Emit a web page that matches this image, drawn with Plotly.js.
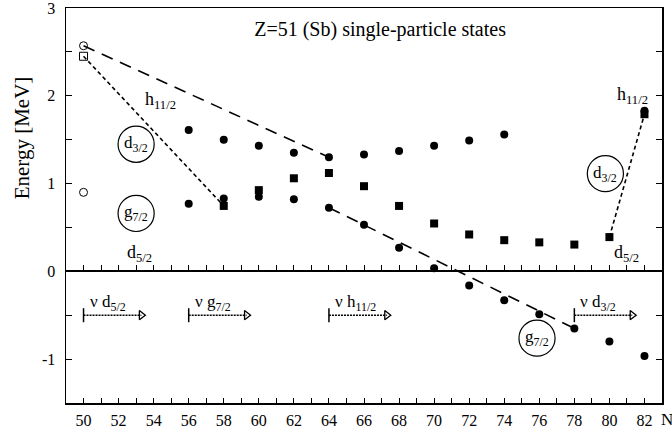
<!DOCTYPE html>
<html><head><meta charset="utf-8">
<script src="https://cdn.plot.ly/plotly-3.0.1.min.js"></script>
<style>html,body{margin:0;padding:0;background:#fff}</style>
</head><body><div id="chart" style="width:672px;height:431px"></div>
<script>
// ---- data ----
const N_h11 = [56,58,60,62,64,66,68,70,72,74,82];
const E_h11 = [1.61,1.50,1.43,1.35,1.30,1.33,1.37,1.43,1.49,1.56,1.83];
const N_g7 = [56,58,60,62,64,66,68,70,72,74,76,78,80,82];
const E_g7 = [0.77,0.83,0.85,0.82,0.725,0.53,0.27,0.035,-0.16,-0.33,-0.49,-0.65,-0.80,-0.965];
const N_d32 = [58,60,62,64,66,68,70,72,74,76,78,80,82];
const E_d32 = [0.745,0.925,1.06,1.12,0.97,0.745,0.545,0.42,0.355,0.33,0.305,0.39,1.79];
const N_open_circ = [50,50];
const E_open_circ = [2.57,0.90];
const N_open_sq = [50];
const E_open_sq = [2.45];
// guide lines
const N_h11_line = [50,64], E_h11_line = [2.57,1.30];
const N_g7_line = [64,78], E_g7_line = [0.725,-0.65];
const N_d32_line1 = [50,58], E_d32_line1 = [2.45,0.745];
const N_d32_line2 = [80,82], E_d32_line2 = [0.39,1.79];
// neutron orbital arrows
const nuStart = [50,56,64,78];
const nuEnd = [53.3,59.3,67.3,81.3];
const nuLevel = -0.5;
const nuLabels = ['ν d<sub>5/2</sub>','ν g<sub>7/2</sub>','ν h<sub>11/2</sub>','ν d<sub>3/2</sub>'];
const xTicks = [50,52,54,56,58,60,62,64,66,68,70,72,74,76,78,80,82];

const FONT = 'Liberation Serif, Times New Roman, serif';
const traces = [];
function line(x,y,dash){traces.push({x:x,y:y,mode:'lines',line:{color:'#000',width:1.6,dash:dash},hoverinfo:'skip'});}
line(N_h11_line,E_h11_line,'12px,8px');
line(N_g7_line,E_g7_line,'12px,8px');
line(N_d32_line1,E_d32_line1,'4px,3px');
line(N_d32_line2,E_d32_line2,'4px,3px');
traces.push({x:N_h11,y:E_h11,mode:'markers',marker:{symbol:'circle',size:8,color:'#000'}});
traces.push({x:N_g7,y:E_g7,mode:'markers',marker:{symbol:'circle',size:8,color:'#000'}});
traces.push({x:N_d32,y:E_d32,mode:'markers',marker:{symbol:'square',size:8,color:'#000'}});
traces.push({x:N_open_circ,y:E_open_circ,mode:'markers',marker:{symbol:'circle-open',size:8,color:'#000',line:{width:1}}});
traces.push({x:N_open_sq,y:E_open_sq,mode:'markers',marker:{symbol:'square-open',size:8,color:'#000',line:{width:1}}});
const annotations = [];
for(let i=0;i<nuStart.length;i++){
  traces.push({x:[nuStart[i],nuEnd[i]],y:[nuLevel,nuLevel],mode:'lines',line:{color:'#000',width:1.5,dash:'2px,1px'}});
  traces.push({x:[nuStart[i]],y:[nuLevel],mode:'markers',marker:{symbol:'line-ns',size:10,line:{color:'#000',width:1.5}}});
  traces.push({x:[nuEnd[i]],y:[nuLevel],mode:'markers',marker:{symbol:'triangle-right-open',size:8,color:'#000',line:{color:'#000',width:1.3}}});
  annotations.push({x:nuStart[i],y:nuLevel,xref:'x',yref:'y',text:nuLabels[i],showarrow:false,xanchor:'left',yanchor:'bottom',xshift:4,yshift:-1,font:{family:FONT,size:17,color:'#000'}});
}
traces.push({x:[],y:[],xaxis:'x2',yaxis:'y',mode:'markers'});

function lab(x,y,t){annotations.push({x:x,y:y,xref:'x',yref:'y',text:t,showarrow:false,font:{family:FONT,size:18,color:'#000'}});}
lab(54.4,1.95,'h<sub>11/2</sub>');
lab(81.3,2.0,'h<sub>11/2</sub>');
lab(53.2,0.2,'d<sub>5/2</sub>');
lab(81.0,0.2,'d<sub>5/2</sub>');
function clab(x,y,t){annotations.push({x:x,y:y,xref:'x',yref:'y',text:t,showarrow:false,font:{family:FONT,size:17,color:'#000'}});}
clab(53.0,1.45,'d<sub>3/2</sub>');
clab(53.0,0.66,'g<sub>7/2</sub>');
clab(79.77,1.11,'d<sub>3/2</sub>');
clab(75.87,-0.76,'g<sub>7/2</sub>');
annotations.push({xref:'paper',yref:'paper',x:1.0,y:0,xanchor:'left',yanchor:'top',xshift:-3,yshift:-5,text:'N',showarrow:false,font:{family:FONT,size:17,color:'#000'}});
annotations.push({xref:'paper',yref:'paper',x:0,y:0.67,xanchor:'center',yanchor:'middle',xshift:-44,text:'Energy [MeV]',textangle:-90,showarrow:false,font:{family:FONT,size:21,color:'#000'}});

function circ(cx,cy){return {type:'circle',xref:'x',yref:'y',x0:cx-1.03,x1:cx+1.03,y0:cy-0.206,y1:cy+0.206,line:{color:'#000',width:1.2}};}
const shapes=[circ(53.0,1.448),circ(53.0,0.66),circ(79.77,1.113),circ(75.87,-0.761)];

const yvals=[-1.5,-1,-0.5,0,0.5,1,1.5,2,2.5,3];
const ytext=yvals.map(v=>Number.isInteger(v)?String(v):'');
const layout={
  width:672,height:431,margin:{l:66,r:10,t:8,b:28},
  paper_bgcolor:'#fff',plot_bgcolor:'#fff',showlegend:false,
  font:{family:FONT,size:15,color:'#000'},
  title:{text:'Z=51 (Sb) single-particle states',font:{family:FONT,size:20,color:'#000'},x:0.527,xref:'paper',xanchor:'center',y:0.933,yref:'container',yanchor:'middle'},
  xaxis:{range:[49,83],tickvals:xTicks,ticks:'inside',ticklen:5,tickwidth:1,tickcolor:'#000',showline:true,linecolor:'#000',linewidth:1.5,mirror:true,showgrid:false,zeroline:false,tickfont:{family:FONT,size:16},ticklabelstandoff:2,
    minor:{dtick:1,tick0:50,ticks:'inside',ticklen:5,tickwidth:1,tickcolor:'#000',showgrid:false}},
  xaxis2:{overlaying:'x',anchor:'free',position:1/3,side:'bottom',range:[49,83],tick0:50,dtick:1,ticks:'inside',ticklen:5,tickwidth:1,tickcolor:'#000',showticklabels:false,showline:true,linecolor:'#000',linewidth:2,showgrid:false,zeroline:false},
  yaxis:{range:[-1.5,3],tickvals:yvals,ticktext:ytext,ticks:'inside',ticklen:6,tickwidth:1,tickcolor:'#000',mirror:'ticks',showline:true,linecolor:'#000',linewidth:1.5,showgrid:false,zeroline:false,tickfont:{family:FONT,size:16},ticklabelstandoff:6,ticklabeloverflow:'allow'},
  annotations:annotations,shapes:shapes
};
Plotly.newPlot('chart',traces,layout,{displayModeBar:false,staticPlot:true});
</script></body></html>
